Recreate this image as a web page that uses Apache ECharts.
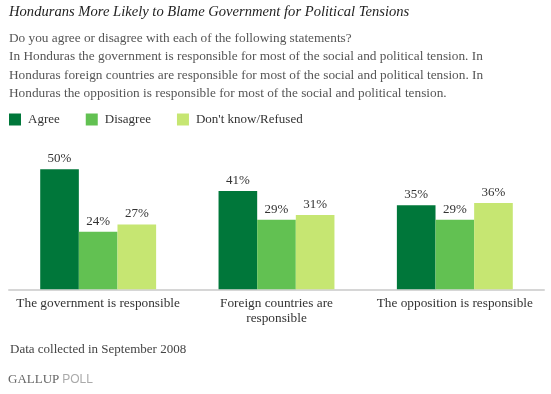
<!DOCTYPE html>
<html>
<head>
<meta charset="utf-8">
<script src="https://cdn.jsdelivr.net/npm/echarts@6/dist/echarts.min.js"></script>
<style>
html,body{margin:0;padding:0;background:#fff;}
#c{width:551px;height:394px;}
</style>
</head>
<body>
<div id="c"></div>
<script>
var categories = ['The government is responsible', 'Foreign countries are\nresponsible', 'The opposition is responsible'];
var seriesNames = ['Agree', 'Disagree', "Don't know/Refused"];
var agree = [50, 41, 35];
var disagree = [24, 29, 29];
var dontKnow = [27, 31, 36];
var colors = ['#00773A', '#62C152', '#C6E672'];

var serif = '"Liberation Serif", "DejaVu Serif", serif';
var chart = echarts.init(document.getElementById('c'), null, {renderer: 'canvas'});

function mk(name, data, color) {
  return {
    name: name, type: 'bar', data: data, barGap: '0%', barCategoryGap: '35%',
    itemStyle: {color: color}, animation: false,
    label: {show: true, position: 'top', distance: 4, formatter: '{c}%',
      fontFamily: serif, fontSize: 13, color: '#333'}
  };
}

chart.setOption({
  animation: false,
  title: [{
    text: 'Hondurans More Likely to Blame Government for Political Tensions',
    subtext: 'Do you agree or disagree with each of the following statements?\nIn Honduras the government is responsible for most of the social and political tension. In\nHonduras foreign countries are responsible for most of the social and political tension. In\nHonduras the opposition is responsible for most of the social and political tension.',
    left: 9, top: 5, padding: 0, itemGap: 9,
    textStyle: {fontFamily: serif, fontStyle: 'italic', fontWeight: 'normal', fontSize: 14.6, color: '#222'},
    subtextStyle: {fontFamily: serif, fontSize: 13.3, color: '#555', lineHeight: 18.5}
  }, {
    text: 'Data collected in September 2008',
    left: 10, top: 343, padding: 0,
    textStyle: {fontFamily: serif, fontWeight: 'normal', fontSize: 13, color: '#444'}
  }, {
    text: '{g|GALLUP}{p|POLL}',
    left: 8, top: 373, padding: 0,
    textStyle: {fontWeight: 'normal', rich: {
      g: {fontFamily: serif, fontWeight: 'normal', fontSize: 13, color: '#666', padding: [0, 3, 0, 0]},
      p: {fontFamily: '"Liberation Sans", Arial, sans-serif', fontWeight: 'normal', fontSize: 12, color: '#aaa'}
    }}
  }],
  legend: {
    data: seriesNames, left: 9, top: 113, padding: 0, itemGap: 26,
    icon: 'rect', itemWidth: 12, itemHeight: 12,
    textStyle: {fontFamily: serif, fontSize: 13, color: '#333', padding: [0, 0, 0, 2]}
  },
  grid: {left: 9, right: 7, top: 145.3, bottom: 104.7, containLabel: false},
  xAxis: {
    type: 'category', data: categories,
    axisTick: {show: false},
    axisLine: {lineStyle: {color: '#d6d6d6', width: 2}},
    axisLabel: {interval: 0, margin: 7, fontFamily: serif, fontSize: 13.3, color: '#333', lineHeight: 15}
  },
  yAxis: {type: 'value', min: 0, max: 60, show: false, splitLine: {show: false}},
  series: [mk(seriesNames[0], agree, colors[0]), mk(seriesNames[1], disagree, colors[1]), mk(seriesNames[2], dontKnow, colors[2])]
});
</script>
</body>
</html>
